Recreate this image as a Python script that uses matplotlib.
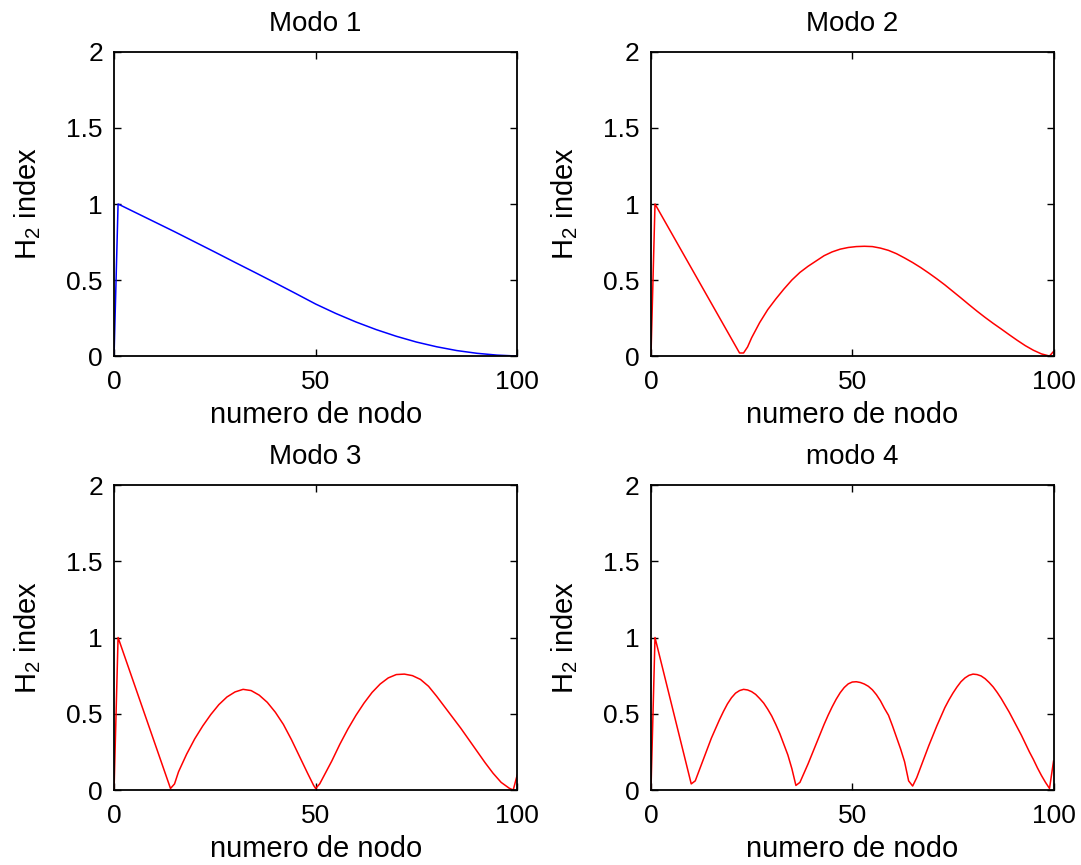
import matplotlib
matplotlib.use("Agg")
import matplotlib.pyplot as plt

plt.rcParams['font.family'] = ['Liberation Sans', 'DejaVu Sans']
plt.rcParams['mathtext.fontset'] = 'custom'
plt.rcParams['mathtext.rm'] = 'Liberation Sans'
plt.rcParams['mathtext.it'] = 'Liberation Sans'
plt.rcParams['mathtext.default'] = 'regular'

titles = ["Modo 1", "Modo 2", "Modo 3", "modo 4"]
colors = ["#0000ff", "#ff0000", "#ff0000", "#ff0000"]
xlabel = "numero de nodo"
ylabel = r"H$_2$ index"
xticks = [0, 50, 100]
yticks = [0, 0.5, 1, 1.5, 2]
yticklabels = ["0", "0.5", "1", "1.5", "2"]

x1 = [0, 1, 5, 10, 15, 20, 25, 30, 35, 40, 45, 50, 55, 60, 65, 70, 75, 80, 85, 90, 95, 100]
y1 = [0, 1.0, 0.948, 0.883, 0.818, 0.751, 0.684, 0.616, 0.549, 0.481, 0.412, 0.342, 0.280,
      0.224, 0.174, 0.130, 0.092, 0.061, 0.036, 0.018, 0.006, 0.0]

x2 = [0, 1, 22, 23, 24, 25, 27, 29, 31, 33, 35, 37, 39, 41, 43, 45, 47, 49, 51, 53, 55,
      57, 59, 61, 63, 65, 67, 69, 71, 73, 75, 77, 79, 81, 83, 85, 87, 89, 91, 93, 95, 97,
      99, 100]
y2 = [0, 1.0, 0.02, 0.02, 0.06, 0.12, 0.22, 0.305, 0.375, 0.44, 0.5, 0.55, 0.59, 0.625,
      0.66, 0.685, 0.703, 0.714, 0.72, 0.722, 0.72, 0.71, 0.695, 0.673, 0.645, 0.615,
      0.582, 0.546, 0.508, 0.468, 0.425, 0.382, 0.338, 0.295, 0.254, 0.215, 0.178, 0.14,
      0.103, 0.068, 0.038, 0.014, 0.0, 0.03]

x3 = [0, 1, 14, 15, 16, 18, 20, 22, 24, 26, 28, 30, 32, 34, 36, 38, 40, 42, 44, 46, 48,
      49.5, 50, 51, 52, 54, 56, 58, 60, 62, 64, 66, 68, 70, 72, 74, 76, 78, 80, 82, 84,
      86, 88, 90, 92, 94, 96, 98, 99, 100]
y3 = [0, 1.0, 0.01, 0.04, 0.12, 0.235, 0.335, 0.42, 0.495, 0.56, 0.61, 0.643, 0.66,
      0.652, 0.622, 0.575, 0.51, 0.43, 0.33, 0.22, 0.11, 0.03, 0.01, 0.04, 0.09, 0.19,
      0.3, 0.4, 0.49, 0.57, 0.64, 0.695, 0.735, 0.757, 0.76, 0.75, 0.725, 0.68, 0.615,
      0.545, 0.475, 0.405, 0.33, 0.255, 0.18, 0.11, 0.05, 0.012, 0.0, 0.1]

x4 = [0, 1, 10, 11, 12, 13, 14, 15, 16, 17, 18, 19, 20, 21, 22, 23, 24, 25, 26, 27, 28,
      29, 30, 31, 32, 33, 34, 35, 36, 37, 38, 39, 40, 41, 42, 43, 44, 45, 46, 47, 48, 49,
      50, 51, 52, 53, 54, 55, 56, 57, 58, 59, 60, 61, 62, 63, 64, 65, 66, 67, 68, 69, 70,
      71, 72, 73, 74, 75, 76, 77, 78, 79, 80, 81, 82, 83, 84, 85, 86, 87, 88, 89, 90, 91,
      92, 93, 94, 95, 96, 97, 98, 99, 100]
y4 = [0, 1.0, 0.04, 0.06, 0.13, 0.2, 0.27, 0.34, 0.4, 0.46, 0.515, 0.565, 0.605, 0.635,
      0.652, 0.66, 0.656, 0.645, 0.627, 0.6, 0.57, 0.53, 0.485, 0.43, 0.37, 0.3, 0.23,
      0.14, 0.03, 0.05, 0.11, 0.17, 0.235, 0.3, 0.365, 0.43, 0.49, 0.545, 0.595, 0.638,
      0.672, 0.696, 0.708, 0.71, 0.705, 0.695, 0.68, 0.657, 0.625, 0.585, 0.535, 0.49,
      0.42, 0.345, 0.27, 0.185, 0.06, 0.026, 0.08, 0.15, 0.22, 0.29, 0.355, 0.42, 0.48,
      0.54, 0.59, 0.635, 0.675, 0.71, 0.735, 0.752, 0.76, 0.757, 0.748, 0.73, 0.705,
      0.676, 0.64, 0.6, 0.555, 0.51, 0.46, 0.41, 0.36, 0.305, 0.25, 0.2, 0.145, 0.095,
      0.05, 0.01, 0.19]

xs = [x1, x2, x3, x4]
ys = [y1, y2, y3, y4]

fig = plt.figure(figsize=(10.81, 8.65), dpi=100)
positions = [
    [0.1055, 0.5884, 0.3730, 0.3515],
    [0.6022, 0.5884, 0.3724, 0.3515],
    [0.1055, 0.0867, 0.3730, 0.3526],
    [0.6022, 0.0867, 0.3724, 0.3526],
]

for i in range(4):
    ax = fig.add_axes(positions[i])
    ax.plot(xs[i], ys[i], color=colors[i], lw=1.1)
    ax.set_xlim(0, 100)
    ax.set_ylim(0, 2)
    ax.set_xticks(xticks)
    ax.set_yticks(yticks)
    ax.set_yticklabels(yticklabels)
    ax.tick_params(direction='in', top=True, right=True, labelsize=19, length=5,
                   width=1.0)
    ax.tick_params(axis='x', pad=10)
    ax.tick_params(axis='y', pad=8)
    for s in ax.spines.values():
        s.set_linewidth(1.3)
    ax.set_title(titles[i], fontsize=20, pad=15)
    ax.set_xlabel(xlabel, fontsize=21, labelpad=5)
    ax.set_ylabel(ylabel, fontsize=21, labelpad=17)

fig.savefig("out.png", dpi=100)
